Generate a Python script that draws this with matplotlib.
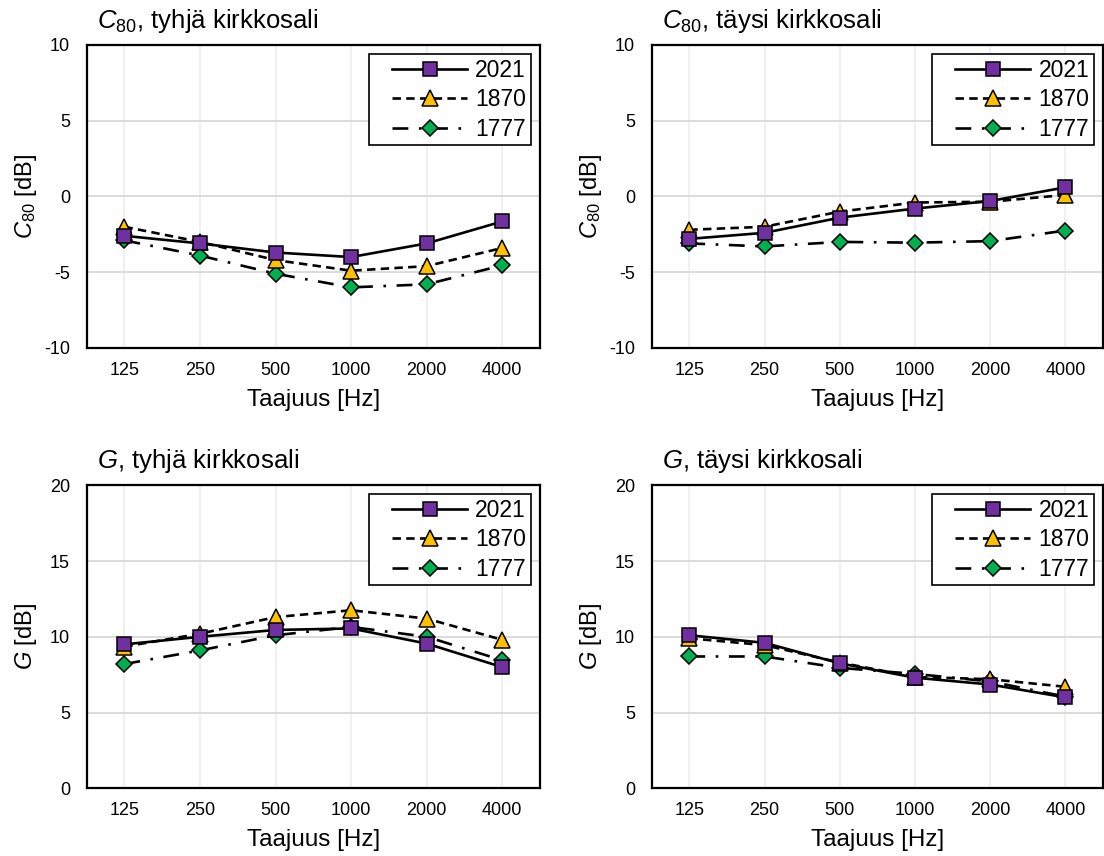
import matplotlib
matplotlib.use("Agg")
import matplotlib.pyplot as plt
from matplotlib.legend_handler import HandlerLine2D

plt.rcParams['font.family'] = ['Liberation Sans', 'DejaVu Sans']
plt.rcParams['mathtext.fontset'] = 'custom'
plt.rcParams['mathtext.rm'] = 'Liberation Sans'
plt.rcParams['mathtext.it'] = 'Liberation Sans:italic'
plt.rcParams['axes.unicode_minus'] = False

# data ###############################################################
freqs = ["125", "250", "500", "1000", "2000", "4000"]
years = ["2021", "1870", "1777"]

c80_empty_2021 = [-2.6, -3.1, -3.7, -4.0, -3.1, -1.65]
c80_empty_1870 = [-2.0, -3.0, -4.2, -4.9, -4.6, -3.4]
c80_empty_1777 = [-2.9, -3.9, -5.1, -6.0, -5.8, -4.55]

c80_full_2021 = [-2.8, -2.4, -1.4, -0.8, -0.3, 0.6]
c80_full_1870 = [-2.2, -2.0, -1.0, -0.4, -0.35, 0.1]
c80_full_1777 = [-3.1, -3.3, -3.0, -3.05, -2.95, -2.25]

g_empty_2021 = [9.5, 10.0, 10.45, 10.55, 9.55, 8.0]
g_empty_1870 = [9.35, 10.2, 11.3, 11.75, 11.2, 9.8]
g_empty_1777 = [8.2, 9.1, 10.1, 10.65, 10.0, 8.45]

g_full_2021 = [10.1, 9.6, 8.25, 7.3, 6.85, 6.0]
g_full_1870 = [9.9, 9.45, 8.3, 7.35, 7.2, 6.7]
g_full_1777 = [8.7, 8.7, 7.95, 7.55, 7.05, 6.05]

panels = [
    (r"$\mathit{C}_{\mathrm{80}}$, tyhjä kirkkosali", r"$\mathit{C}_{\mathrm{80}}$ [dB]",
     [c80_empty_2021, c80_empty_1870, c80_empty_1777], (-10, 10)),
    (r"$\mathit{C}_{\mathrm{80}}$, täysi kirkkosali", r"$\mathit{C}_{\mathrm{80}}$ [dB]",
     [c80_full_2021, c80_full_1870, c80_full_1777], (-10, 10)),
    (r"$\mathit{G}$, tyhjä kirkkosali", r"$\mathit{G}$ [dB]",
     [g_empty_2021, g_empty_1870, g_empty_1777], (0, 20)),
    (r"$\mathit{G}$, täysi kirkkosali", r"$\mathit{G}$ [dB]",
     [g_full_2021, g_full_1870, g_full_1777], (0, 20)),
]

# styles ############################################################
markers = ['s', '^', 'D']
msizes = [10, 11.5, 8.5]
mcolors = ['#7030A0', '#FFC000', '#00B050']
lstyles = ['-', (0, (3.2, 2.0)), (0, (6, 4, 1, 4))]

class PadHandler(HandlerLine2D):
    # leave some empty space left of the legend line, like the original
    def create_artists(self, legend, orig_handle, xdescent, ydescent, width, height, fontsize, trans):
        pad = 0.8 * fontsize
        return super().create_artists(legend, orig_handle, xdescent - pad, ydescent,
                                      width - pad, height, fontsize, trans)

fig = plt.figure(figsize=(11.04, 8.56), dpi=100)
positions = [[0.0785, 0.5935, 0.4106, 0.354],
             [0.5903, 0.5935, 0.4088, 0.354],
             [0.0785, 0.0791, 0.4106, 0.354],
             [0.5903, 0.0791, 0.4088, 0.354]]

x = list(range(len(freqs)))
for pos, (title, ylab, series, ylim) in zip(positions, panels):
    ax = fig.add_axes(pos)
    lines = []
    for k in range(3):
        ln, = ax.plot(x, series[k], color='black', lw=1.9, ls=lstyles[k],
                      marker=markers[k], ms=msizes[k], mfc=mcolors[k], mec='black',
                      mew=1.1, label=years[k], zorder=3 + (2 - k) * 0.1)
        lines.append(ln)
    ax.set_xlim(-0.5, 5.5)
    ax.set_ylim(*ylim)
    ax.set_yticks(range(ylim[0], ylim[1] + 1, 5))
    ax.set_xticks(x)
    ax.set_xticklabels(freqs)
    ax.tick_params(length=0, labelsize=13)
    ax.tick_params(axis='x', pad=10)
    ax.tick_params(axis='y', pad=12)
    ax.yaxis.grid(True, color='#d9d9d9', lw=1.3)
    ax.xaxis.grid(True, color='#efefef', lw=1.3)
    ax.set_axisbelow(True)
    for s in ax.spines.values():
        s.set_linewidth(1.6)
        s.set_color('black')
    ax.set_xlabel("Taajuus [Hz]", fontsize=17.5)
    ax.xaxis.set_label_coords(0.5, -0.135)
    ax.set_ylabel(ylab, fontsize=17)
    ax.yaxis.set_label_coords(-0.105, 0.5)
    ax.text(0.023, 1.056, title, transform=ax.transAxes, fontsize=18.5,
            ha='left', va='baseline')
    lgd = ax.legend(lines, years, loc='upper right', fontsize=16.5, numpoints=1,
                    handlelength=4.1, handletextpad=0.35, labelspacing=0.28,
                    borderpad=0.2, borderaxespad=0.4, fancybox=False,
                    framealpha=1, handler_map={ln: PadHandler() for ln in lines})
    lgd.get_frame().set_edgecolor('black')
    lgd.get_frame().set_linewidth(1.2)

plt.savefig("out.png", dpi=100)
